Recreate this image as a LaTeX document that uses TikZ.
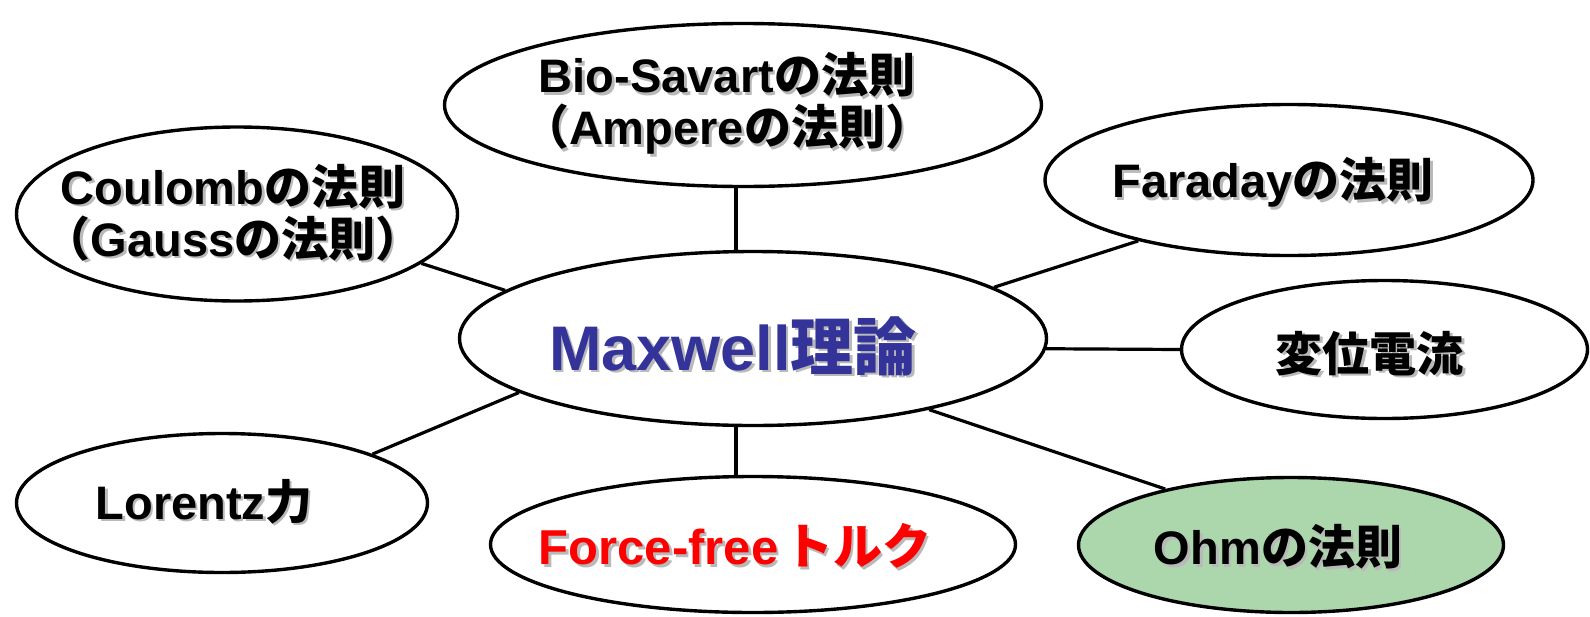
\documentclass[tikz,border=0pt]{standalone}
\usepackage{fontspec}
\setmainfont{Liberation Sans}
\newfontfamily\jp{Noto Sans CJK JP}
\usetikzlibrary{shapes.geometric}
\definecolor{shadowc}{RGB}{185,185,185}
\definecolor{maxblue}{RGB}{51,51,153}
\definecolor{ohmgreen}{RGB}{172,214,172}
\newcommand{\shd}[1]{\makebox[0pt][l]{\kern2.5pt\raisebox{-2.5pt}{\color{shadowc}#1}}#1}
\begin{document}
\begin{tikzpicture}[x=1pt,y=-1pt,
  oval/.style={ellipse, draw, line width=3.4pt, fill=white, inner sep=0pt},
  conn/.style={line width=3.2pt},
  txt/.style={font=\bfseries\fontsize{47}{52}\selectfont, align=center, inner sep=0pt}
]
\useasboundingbox (0,0) rectangle (1590,616);

\node[oval, minimum width=597pt, minimum height=163pt,
  label={[txt, xshift=-16pt]center:{\shd{Bio-Savart{\jp の法則}}\\\shd{{\jp （}Ampere{\jp の法則）}}}}] (bio) at (743,105) {};
\node[oval, minimum width=441pt, minimum height=174pt,
  label={[txt, xshift=-4pt]center:{\shd{Coulomb{\jp の法則}}\\\shd{{\jp （}Gauss{\jp の法則）}}}}] (cou) at (237,214) {};
\node[oval, minimum width=488pt, minimum height=151pt,
  label={[txt, xshift=-16pt, yshift=-4pt]center:{\shd{Faraday{\jp の法則}}}}] (far) at (1289,180) {};
\node[oval, minimum width=587pt, minimum height=174pt,
  label={[txt, font=\bfseries\fontsize{63}{70}\selectfont, text=maxblue, xshift=-20pt, yshift=-9pt]center:{\shd{Maxwell{\jp 理論}}}}] (max) at (753,338.5) {};
\node[oval, minimum width=406pt, minimum height=138pt,
  label={[txt, xshift=-15pt, yshift=-5pt]center:{\shd{{\jp 変位電流}}}}] (hen) at (1384.5,349.5) {};
\node[oval, minimum width=411pt, minimum height=139pt,
  label={[txt, xshift=-18pt]center:{\shd{Lorentz{\jp 力}}}}] (lor) at (222,503) {};
\node[oval, minimum width=525pt, minimum height=136pt,
  label={[txt, font=\bfseries\fontsize{49}{52}\selectfont, text=red, xshift=-18pt, yshift=-3pt]center:{\shd{Force-free\kern6pt{\jp トルク}}}}] (ff) at (753,544.5) {};
\node[oval, fill=ohmgreen, minimum width=425pt, minimum height=135pt,
  label={[txt, xshift=-13pt, yshift=-3pt]center:{\shd{Ohm{\jp の法則}}}}] (ohm) at (1291,545) {};

\coordinate (vx) at (736,0);
\draw[conn] (bio.south -| vx) -- (max.north -| vx);
\draw[conn] (max.south -| vx) -- (ff.north -| vx);
\draw[conn] (cou.-15) -- (max.169.6);
\draw[conn] (far.-158.9) -- (max.12.1);
\draw[conn] (max.-2) -- (hen.west);
\draw[conn] (lor.18.8) -- (max.193.7);
\draw[conn] (ohm.156.2) -- (max.-22.3);
\end{tikzpicture}
\end{document}
